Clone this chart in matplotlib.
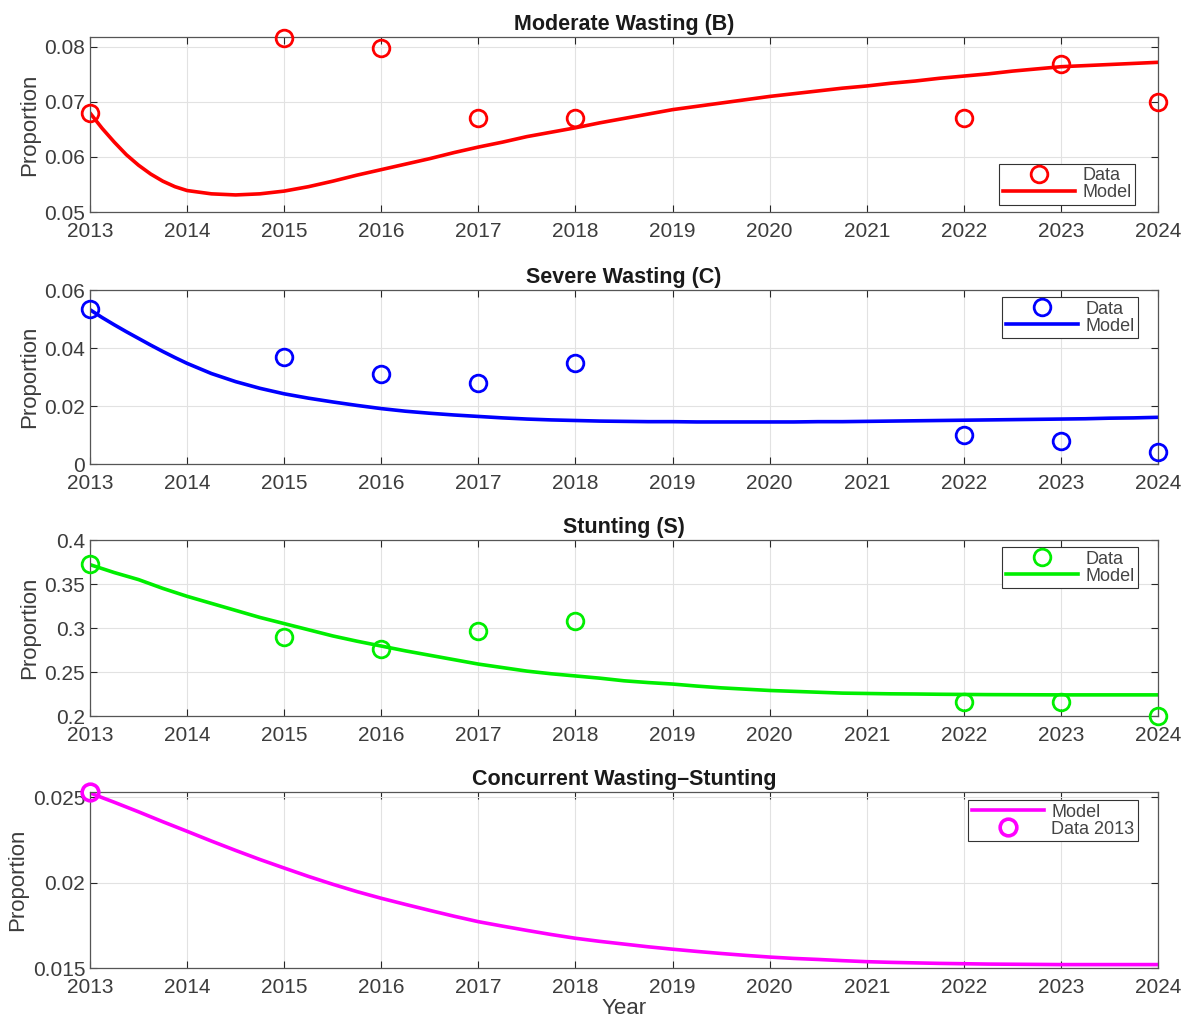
import matplotlib
matplotlib.use("Agg")
import matplotlib.pyplot as plt

plt.rcParams['font.family'] = ['Liberation Sans', 'DejaVu Sans']

# Survey years and observed proportions
data_years = [2013, 2015, 2016, 2017, 2018, 2022, 2023, 2024]
moderate_wasting_obs = [0.068, 0.0816, 0.0798, 0.067, 0.067, 0.067, 0.0769, 0.070]
severe_wasting_obs = [0.0533, 0.037, 0.031, 0.028, 0.035, 0.010, 0.008, 0.004]
stunting_obs = [0.373, 0.290, 0.276, 0.297, 0.308, 0.216, 0.216, 0.200]
concurrent_year = [2013]
concurrent_obs = [0.0253]

# Model trajectories: eighth-year steps through 2014, quarterly afterwards
model_years = ([2013 + 0.125 * k for k in range(8)]
               + [2014 + 0.25 * k for k in range(41)])
moderate_wasting_model = [
    0.0680, 0.0652, 0.0627, 0.0604, 0.0585, 0.0569, 0.0556, 0.0546,
    0.0539, 0.0533, 0.0531, 0.0533,
    0.0538, 0.0546, 0.0556, 0.0567, 0.0577, 0.0587, 0.0597, 0.0608,
    0.0618, 0.0627, 0.0637, 0.0645, 0.0653, 0.0662, 0.0670, 0.0678,
    0.0686, 0.0692, 0.0698, 0.0704, 0.0710, 0.0715, 0.0720, 0.0725,
    0.0729, 0.0734, 0.0738, 0.0743, 0.0747, 0.0751, 0.0756, 0.0760,
    0.0764, 0.0766, 0.0768, 0.0770, 0.0772]
severe_wasting_model = [
    0.0532, 0.0505, 0.0480, 0.0456, 0.0433, 0.0410, 0.0388, 0.0367,
    0.0347, 0.0312, 0.0284, 0.0261,
    0.0242, 0.0227, 0.0214, 0.0202, 0.0191, 0.0182, 0.0175, 0.0169,
    0.0164, 0.0159, 0.0155, 0.0152, 0.0150, 0.0148, 0.0147, 0.0146,
    0.0146, 0.0145, 0.0145, 0.0145, 0.0145, 0.0145, 0.0146, 0.0146,
    0.0147, 0.0148, 0.0149, 0.0150, 0.0151, 0.0152, 0.0153, 0.0154,
    0.0155, 0.0156, 0.0158, 0.0159, 0.0161]
stunting_model = [
    0.372, 0.3675, 0.363, 0.359, 0.355, 0.350, 0.345, 0.3405,
    0.336, 0.328, 0.320, 0.312,
    0.305, 0.298, 0.291, 0.285, 0.2795, 0.274, 0.269, 0.264,
    0.259, 0.255, 0.251, 0.248, 0.2455, 0.243, 0.240, 0.238,
    0.2363, 0.234, 0.232, 0.2305, 0.229, 0.228, 0.227, 0.226,
    0.2256, 0.2252, 0.225, 0.2247, 0.2245, 0.2243, 0.2242, 0.2241,
    0.224, 0.224, 0.224, 0.224, 0.224]
concurrent_model = [
    0.02525, 0.02497, 0.02470, 0.02442, 0.02414, 0.02385, 0.02356, 0.02328,
    0.02300, 0.02243, 0.02188, 0.02135,
    0.02085, 0.02036, 0.01990, 0.01947, 0.01908, 0.01872, 0.01837, 0.01803,
    0.01771, 0.01745, 0.01720, 0.01696, 0.01674, 0.01656, 0.01640, 0.01624,
    0.01610, 0.01597, 0.01585, 0.01574, 0.01564, 0.01556, 0.01550, 0.01543,
    0.01537, 0.01533, 0.01530, 0.01527, 0.01525, 0.01523, 0.01522, 0.01521,
    0.01520, 0.01520, 0.01520, 0.01520, 0.01520]

year_ticks = list(range(2013, 2025))

W, H = 1187, 1019
fig = plt.figure(figsize=(W / 100, H / 100), dpi=100)

left = 90 / W
width = 1068 / W
panels = [(37, 212), (290, 464), (540, 716), (792, 968)]
axes = []
for top, bottom in panels:
    axes.append(fig.add_axes([left, 1 - bottom / H, width, (bottom - top) / H]))

axis_grey = '#262626'
tick_grey = '#3c3c3c'


def style(ax, ylim, yticks, ylabels, title):
    ax.set_xlim(2013, 2024)
    ax.set_ylim(*ylim)
    ax.set_xticks(year_ticks)
    ax.set_xticklabels([str(y) for y in year_ticks])
    ax.set_yticks(yticks)
    ax.set_yticklabels(ylabels)
    ax.grid(True, color='#e2e2e2', linewidth=0.8)
    ax.set_axisbelow(True)
    ax.tick_params(direction='in', top=True, right=True, length=5,
                   width=0.8, color=axis_grey, labelsize=15,
                   labelcolor=tick_grey)
    ax.tick_params(axis='x', pad=7)
    ax.tick_params(axis='y', pad=3.5)
    for sp in ax.spines.values():
        sp.set_color('#555555')
        sp.set_linewidth(0.9)
    ax.set_ylabel('Proportion', fontsize=16, color=tick_grey, labelpad=3)
    ax.set_title(title, fontsize=15.5, fontweight='bold', color='#1a1a1a', pad=5)


def legend(ax, loc, anchor):
    leg = ax.legend(loc=loc, bbox_to_anchor=anchor, fontsize=13,
                    frameon=True, fancybox=False, edgecolor='#333333',
                    framealpha=1, handlelength=4.0, handletextpad=0.4,
                    borderpad=0.2, labelspacing=0.0, borderaxespad=0.0)
    leg.get_frame().set_linewidth(0.8)
    for t in leg.get_texts():
        t.set_color('#444444')
    return leg


mk = dict(marker='o', linestyle='none', markersize=12, markeredgewidth=2,
          markerfacecolor='none', clip_on=False, zorder=5)
lw = 2.6

# Moderate wasting
ax = axes[0]
ax.plot(data_years, moderate_wasting_obs, color='red', label='Data', **mk)
ax.plot(model_years, moderate_wasting_model, color='red', linewidth=lw, label='Model')
style(ax, (0.05, 0.0818), [0.05, 0.06, 0.07, 0.08], ['0.05', '0.06', '0.07', '0.08'],
      'Moderate Wasting (B)')
legend(ax, 'lower right', (0.9785, 0.04))

# Severe wasting
ax = axes[1]
ax.plot(data_years, severe_wasting_obs, color='blue', label='Data', **mk)
ax.plot(model_years, severe_wasting_model, color='blue', linewidth=lw, label='Model')
style(ax, (0, 0.06), [0, 0.02, 0.04, 0.06], ['0', '0.02', '0.04', '0.06'],
      'Severe Wasting (C)')
legend(ax, 'upper right', (0.9813, 0.96))

# Stunting
ax = axes[2]
ax.plot(data_years, stunting_obs, color='#00ee00', label='Data', **mk)
ax.plot(model_years, stunting_model, color='#00ee00', linewidth=lw, label='Model')
style(ax, (0.2, 0.4), [0.2, 0.25, 0.3, 0.35, 0.4],
      ['0.2', '0.25', '0.3', '0.35', '0.4'], 'Stunting (S)')
legend(ax, 'upper right', (0.9813, 0.96))

# Concurrent wasting-stunting
ax = axes[3]
ax.plot(model_years, concurrent_model, color='magenta', linewidth=lw, label='Model')
ax.plot(concurrent_year, concurrent_obs, color='magenta', label='Data 2013',
        **dict(mk, markeredgewidth=2.6))
style(ax, (0.015, 0.0253), [0.015, 0.02, 0.025], ['0.015', '0.02', '0.025'],
      'Concurrent Wasting\u2013Stunting')
legend(ax, 'upper right', (0.9813, 0.955))
ax.set_xlabel('Year', fontsize=16, color=tick_grey, labelpad=1)

fig.savefig('out.png', dpi=100)
